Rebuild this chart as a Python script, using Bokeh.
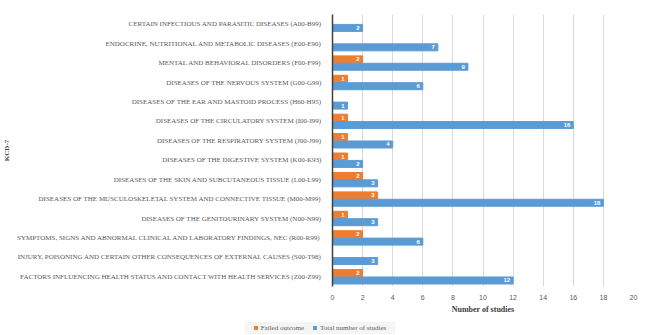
from bokeh.plotting import figure
from bokeh.layouts import column
from bokeh.models import ColumnDataSource, FixedTicker, Div
from bokeh.transform import dodge
from bokeh.core.properties import value
from bokeh.embed import file_html
from bokeh.resources import INLINE

categories = [
    "CERTAIN INFECTIOUS AND PARASITIC DISEASES (A00-B99)",
    "ENDOCRINE, NUTRITIONAL AND METABOLIC DISEASES (E00-E90)",
    "MENTAL AND BEHAVIORAL DISORDERS (F00-F99)",
    "DISEASES OF THE NERVOUS SYSTEM (G00-G99)",
    "DISEASES OF THE EAR AND MASTOID PROCESS (H60-H95)",
    "DISEASES OF THE CIRCULATORY SYSTEM (I00-I99)",
    "DISEASES OF THE RESPIRATORY SYSTEM (J00-J99)",
    "DISEASES OF THE DIGESTIVE SYSTEM (K00-K93)",
    "DISEASES OF THE SKIN AND SUBCUTANEOUS TISSUE (L00-L99)",
    "DISEASES OF THE MUSCULOSKELETAL SYSTEM AND CONNECTIVE TISSUE (M00-M99)",
    "DISEASES OF THE GENITOURINARY SYSTEM (N00-N99)",
    "SYMPTOMS, SIGNS AND ABNORMAL CLINICAL AND LABORATORY FINDINGS, NEC (R00-R99)",
    "INJURY, POISONING AND CERTAIN OTHER CONSEQUENCES OF EXTERNAL CAUSES (S00-T98)",
    "FACTORS INFLUENCING HEALTH STATUS AND CONTACT WITH HEALTH SERVICES (Z00-Z99)",
]
failed = [0, 0, 2, 1, 0, 1, 1, 1, 2, 3, 1, 2, 0, 2]
total = [2, 7, 9, 6, 1, 16, 4, 2, 3, 18, 3, 6, 3, 12]
x_ticks = [0, 2, 4, 6, 8, 10, 12, 14, 16, 18, 20]
series_names = ["Failed outcome", "Total number of studies"]

ORANGE = "#ED7D31"
BLUE = "#5B9BD5"
SERIF = "Liberation Serif"
SANS = "Liberation Sans"

f_cats = [c for c, v in zip(categories, failed) if v > 0]
f_vals = [v for v in failed if v > 0]
src_f = ColumnDataSource(dict(cat=f_cats, v=f_vals, lbl=[str(v) for v in f_vals]))
src_t = ColumnDataSource(dict(cat=categories, v=total, lbl=[str(v) for v in total]))

p = figure(width=649, height=318, y_range=list(reversed(categories)),
           x_range=(0, 20), output_backend="svg", toolbar_location=None,
           min_border_left=331, min_border_right=16, min_border_top=14,
           min_border_bottom=32)
p.outline_line_color = None
p.background_fill_color = "white"

off = 0.19
hgt = 0.36
p.hbar(y=dodge("cat", off, range=p.y_range), right="v", left=0, height=hgt,
       color=ORANGE, source=src_f)
p.hbar(y=dodge("cat", -off, range=p.y_range), right="v", left=0, height=hgt,
       color=BLUE, source=src_t)

for src, o in ((src_f, off), (src_t, -off)):
    p.text(x="v", y=dodge("cat", o, range=p.y_range), text="lbl", source=src,
           text_color="white", text_font=value(SANS), text_font_style="bold",
           text_font_size="6px", text_align="right", text_baseline="middle",
           x_offset=-3)

p.xaxis.ticker = FixedTicker(ticks=x_ticks)
p.xaxis.axis_line_color = None
p.xaxis.major_tick_line_color = None
p.xaxis.minor_tick_line_color = None
p.xaxis.major_label_text_font = SANS
p.xaxis.major_label_text_font_size = "7px"
p.xaxis.major_label_text_color = "#595959"
p.xaxis.major_label_standoff = 2
p.xaxis.axis_label = "Number of studies"
p.xaxis.axis_label_text_font = SERIF
p.xaxis.axis_label_text_font_size = "8px"
p.xaxis.axis_label_text_font_style = "bold"
p.xaxis.axis_label_text_color = "#404040"
p.xaxis.axis_label_standoff = 2

p.yaxis.major_tick_line_color = None
p.yaxis.minor_tick_line_color = None
p.yaxis.axis_line_color = "#404040"
p.yaxis.axis_line_width = 1.5
p.yaxis.major_label_text_font = SERIF
p.yaxis.major_label_text_font_size = "7px"
p.yaxis.major_label_text_color = "#595959"
p.yaxis.major_label_standoff = 5
p.yaxis.axis_label = "KCD-7"
p.yaxis.axis_label_text_font = SERIF
p.yaxis.axis_label_text_font_size = "7px"
p.yaxis.axis_label_text_font_style = "bold"
p.yaxis.axis_label_text_color = "#404040"
p.yaxis.axis_label_standoff = 3

p.ygrid.grid_line_color = None
p.xgrid.grid_line_color = "#d9d9d9"
p.xgrid.grid_line_width = 1

# legend strip below the chart
def item(color, label):
    return ('<span style="display:inline-flex;align-items:center;">'
            f'<span style="display:inline-block;width:4px;height:4px;background:{color};'
            f'margin-right:3px;"></span>{label}</span>')

legend_html = (
    '<div style="margin-left:245px;width:150px;height:12px;background:#f5f5f5;'
    f"font-family:'{SERIF}';font-size:7px;color:#595959;display:flex;"
    'align-items:center;justify-content:center;gap:9px;line-height:12px;">'
    + item(ORANGE, series_names[0]) + item(BLUE, series_names[1]) + '</div>'
)
lg = Div(text=legend_html, width=649, height=17, margin=0)

open("out.html", "w").write(file_html(column(p, lg, spacing=0), INLINE))
